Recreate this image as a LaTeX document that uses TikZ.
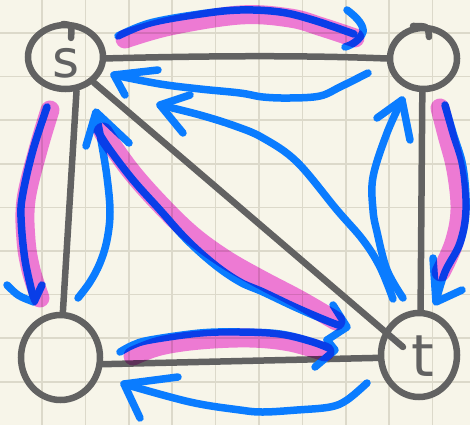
\documentclass[tikz,border=0pt]{standalone}
\usepackage{fontspec}
\newfontfamily\handfont{DejaVu Sans}
\usetikzlibrary{shapes.geometric}
\definecolor{paper}{RGB}{247,245,233}
\definecolor{gridc}{RGB}{220,217,202}
\definecolor{edgegray}{RGB}{98,98,98}
\definecolor{penblue}{RGB}{10,124,255}
\definecolor{hilite}{RGB}{245,128,232}
\tikzset{
  vert/.style={ellipse, draw=edgegray, line width=6.5pt, inner sep=0pt},
  edge/.style={draw=edgegray, line width=6.5pt, line cap=round, line join=round},
  pen/.style={draw=penblue, line width=7.5pt, line cap=round, line join=round},
  marker/.style={draw=hilite, line width=19pt, line cap=round, line join=round},
  letter/.style={text=edgegray, font=\handfont\fontsize{52}{52}\selectfont, inner sep=0pt}
}
\begin{document}
\begin{tikzpicture}[x=1pt,y=-1pt]
\useasboundingbox (0,0) rectangle (470,425);
\fill[paper] (0,0) rectangle (470,425);
% grid
\foreach \i in {0,...,10}{
  \draw[gridc, line width=1.5pt] ({-1.4+43.4*\i},0) -- ({-1.4+43.4*\i},425);
}
\foreach \i in {0,...,9}{
  \draw[gridc, line width=1.5pt] (0,{-10.6+43.6*\i}) -- (470,{-10.6+43.6*\i});
}
% vertices
\node[vert, minimum width=75pt, minimum height=64pt] (s) at (65.5,57) {};
\node[vert, minimum width=67pt, minimum height=61pt] (a) at (423.5,58.5) {};
\node[vert, minimum width=79pt, minimum height=85pt] (b) at (60.5,357.5) {};
\node[vert, minimum width=76pt, minimum height=84pt] (t) at (419,355) {};
\node[letter] (sl) at (66,63) {s};
\node[letter, font=\handfont\fontsize{58}{58}\selectfont] (tl) at (423,356) {t};
% small stroke ends of the circles
\draw[edge] (63,24) .. controls (72,25) .. (71,38);
\draw[edge] (413,26) .. controls (428,26) .. (429,37);
% gray edges
\coordinate (tin) at (403,347);
\draw[edge] (s.-2) .. controls (200,56) and (300,55) .. (a.west);
\draw[edge] (s.-72) -- (b.87);
\draw[edge] (a.-92) -- (t.88);
\draw[edge] (b.-9) -- (t.-176);
\draw[edge] (s.-42) -- (tin);
% blue pen strokes
\draw[pen] plot[smooth, tension=0.6] coordinates {(118,36) (150,23) (200,14) (240,10) (280,12) (313,20) (354,34)};
\draw[pen] (347,10) .. controls (358,18) and (364,26) .. (363,32) .. controls (360,40) and (352,45) .. (345,47);

\draw[pen] plot[smooth, tension=0.6] coordinates {(368,73) (340,87) (320,96) (290,98) (263,97) (240,93) (200,89) (160,84) (114,75)};
\draw[pen] (158,70) -- (114,75) -- (125,95);

\draw[pen] plot[smooth, tension=0.6] coordinates {(393,299) (380,267) (363,240) (337,210) (297,162) (263,138) (235,126) (200,115) (160,105)};
\draw[pen] (190,95) -- (160,105) -- (183,133);

\draw[pen] plot[smooth, tension=0.6] coordinates {(403,298) (387,270) (377,232) (373,210) (373,177) (387,133) (402,100)};
\draw[pen] (377,118) -- (402,100) -- (410,140);

\draw[pen] plot[smooth, tension=0.6] coordinates {(47,107) (33,150) (23,193) (21,217) (25,260) (34,300)};
\draw[pen] (7,285) .. controls (18,296) .. (34,302) -- (42,285);

\draw[pen] plot[smooth, tension=0.6] coordinates {(78,298) (90,282) (100,263) (107,240) (110,212) (107,177) (101,140) (96,113)};
\draw[pen] (86,146) -- (96,112) -- (129,143);

\draw[pen] plot[smooth, tension=0.6] coordinates {(97,130) (110,150) (133,180) (160,210) (187,240) (215,265) (240,282) (263,292) (297,308) (330,322) (345,327)};
\draw[pen] (333,305) -- (347,327) -- (327,340);

\draw[pen] plot[smooth, tension=0.6] coordinates {(120,352) (133,345) (150,340) (200,333) (240,332) (280,334) (313,342) (333,350)};
\draw[pen] (327,340) -- (335,350) -- (315,367);

\draw[pen] plot[smooth, tension=0.6] coordinates {(367,383) (347,400) (330,407) (297,410) (263,412) (240,410) (190,402) (124,384)};
\draw[pen] (178,377) -- (124,384) -- (140,418);

\draw[pen] plot[smooth, tension=0.6] coordinates {(445,105) (453,133) (463,167) (466,210) (460,243) (445,272) (436,301)};
\draw[pen] (433,258) -- (436,302) -- (462,290);
% highlighter
\begin{scope}[blend mode=multiply]
\draw[marker] plot[smooth, tension=0.6] coordinates {(125,39) (170,26) (240,15) (290,18) (322,27) (355,38)};
\draw[marker] plot[smooth, tension=0.6] coordinates {(50,110) (38,150) (26,200) (26,240) (31,270) (40,298)};
\draw[marker] plot[smooth, tension=0.6] coordinates {(103,132) (130,170) (160,204) (192,235) (225,259) (260,279) (300,300) (336,321)};
\draw[marker] plot[smooth, tension=0.6] coordinates {(133,356) (160,346) (200,340) (250,338) (290,342) (325,352)};
\draw[marker] plot[smooth, tension=0.6] coordinates {(440,108) (447,135) (456,170) (460,210) (454,243) (441,272)};
\end{scope}
\end{tikzpicture}
\end{document}
